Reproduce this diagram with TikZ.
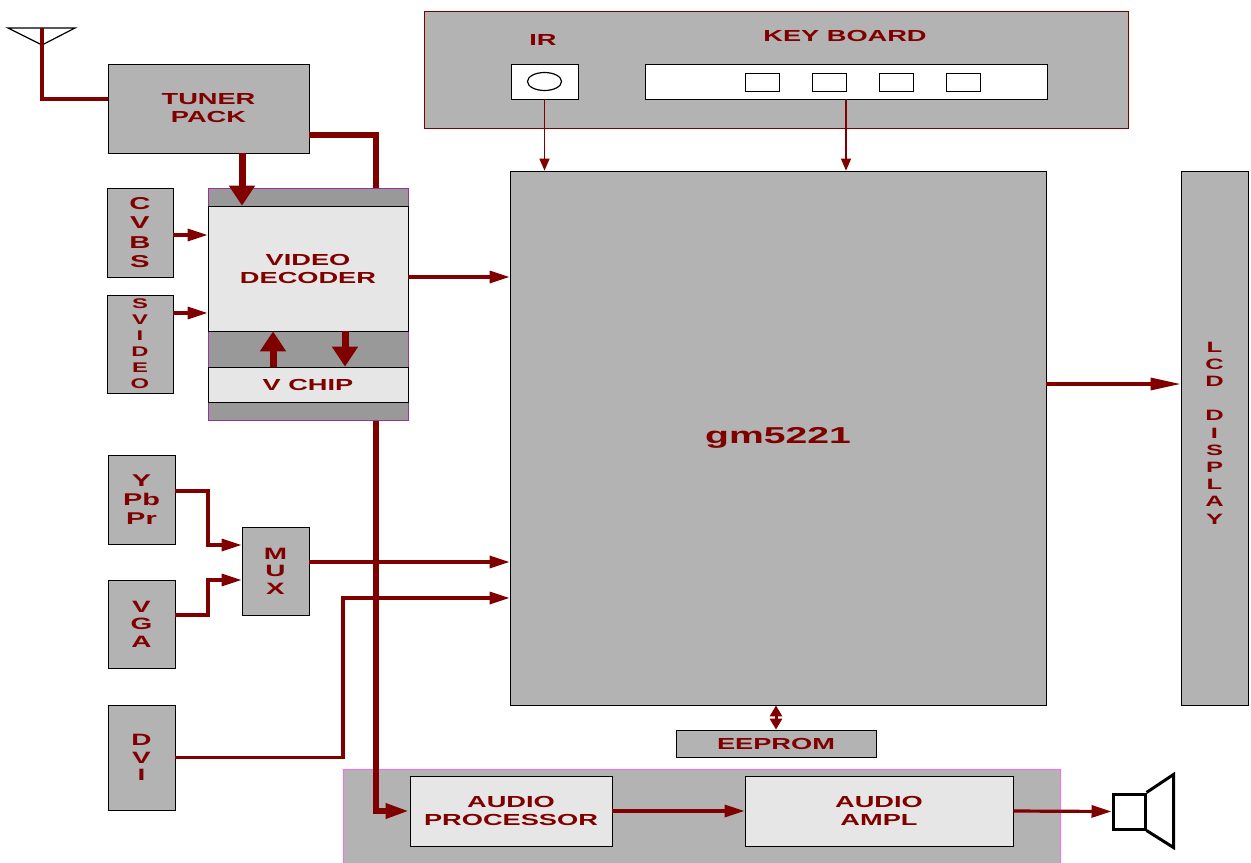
\documentclass[tikz,border=0pt]{standalone}
\usepackage{fontspec}
\newfontfamily\blockfont[FakeStretch=1.7]{Liberation Sans}
\usetikzlibrary{arrows.meta,calc}

\definecolor{lblred}{HTML}{800000}
\definecolor{boxgray}{HTML}{B3B3B3}
\definecolor{panelgray}{HTML}{999999}
\definecolor{chipgray}{HTML}{E6E6E6}
\definecolor{vdpurple}{HTML}{993399}
\definecolor{audmag}{HTML}{FF66FF}

\begin{document}
\begin{tikzpicture}[x=0.5pt,y=-0.5pt]
  \tikzstyle{blk}=[rectangle,draw=black,fill=boxgray,inner sep=0pt,text=lblred,align=center,
                   font=\blockfont\bfseries\fontsize{8}{9}\selectfont]
  \tikzstyle{chip}=[blk,fill=chipgray]
  \tikzstyle{vert}=[font=\blockfont\bfseries\fontsize{8.2}{8.75}\selectfont]
  \tikzstyle{bus}=[draw=lblred,line width=3pt]
  \tikzstyle{bigarrow}=[draw=lblred,line width=3.5pt,-{Triangle[length=10pt,width=12.5pt]}]
  \tikzstyle{sig}=[draw=lblred,line width=1.6pt,-{Triangle[length=10pt,width=6pt]}]
  \tikzstyle{thin}=[draw=lblred,line width=0.7pt,-{Triangle[length=6pt,width=5pt]}]
  \clip (0,0) rectangle (1251,862);
  \fill[white] (0,0) rectangle (1251,862);

  % tuner and antenna
  \node[blk,minimum width=100.5pt,minimum height=44.5pt] (tuner) at (208.5,108.5) {TUNER\\PACK};
  \draw[black,line width=0.6pt] (8,28) -- (75,28) -- (42,45) -- cycle;
  \draw[draw=lblred,line width=2pt] (42,28) |- ($(tuner.west)+(0,-9.5)$);

  % audio part
  \node[blk,draw=audmag,minimum width=358.5pt,minimum height=50.5pt] (audiobg) at (701.5,819.5) {};
  \node[chip,minimum width=101pt,minimum height=35pt] (aproc) at (511,811) {AUDIO\\PROCESSOR};
  \node[chip,minimum width=134pt,minimum height=35pt] (aampl) at (879,811) {AUDIO\\AMPL};

  % audio bus from tuner, runs behind the decoder
  \coordinate (bustop) at (376,135);
  \draw[bus,-{Triangle[length=12pt,width=7pt]}] (tuner.east |- bustop) -- (bustop) |- (aproc.west);

  % video decoder block
  \node[blk,draw=vdpurple,fill=panelgray,minimum width=100pt,minimum height=116pt] (vdbg) at (308,304) {};
  \node[chip,minimum width=100pt,minimum height=62.5pt] (vdec) at (308,268.5) {VIDEO\\DECODER};
  \node[chip,minimum width=100pt,minimum height=17.5pt] (vchip) at (308,384.5) {V CHIP};
  \draw[bigarrow] ($(tuner.south)+(33.5,0)$) -- ($(vdec.north)+(-66,0)$);
  \draw[bigarrow] ($(vchip.north)+(-35,0)$) -- ($(vdec.south)+(-35,0)$);
  \draw[bigarrow] ($(vdec.south)+(37,0)$) -- ($(vchip.north)+(37,0)$);

  % inputs
  \node[blk,vert,font=\blockfont\bfseries\fontsize{8.6}{9.6}\selectfont,minimum width=33pt,minimum height=44.5pt] (cvbs) at (140,232.5) {C\\V\\B\\S};
  \node[blk,vert,font=\blockfont\bfseries\fontsize{7}{8}\selectfont,minimum width=33pt,minimum height=49pt] (svideo) at (140,344) {S\\V\\I\\D\\E\\O};
  \node[blk,vert,font=\blockfont\bfseries\fontsize{8.5}{9.6}\selectfont,minimum width=33.5pt,minimum height=44.5pt] (ypbpr) at (141.5,499.5) {Y\\Pb\\Pr};
  \node[blk,vert,minimum width=33.5pt,minimum height=44pt] (vga) at (141.5,624) {V\\G\\A};
  \node[blk,vert,minimum width=33.5pt,minimum height=44pt] (mux) at (275.5,571) {M\\U\\X};
  \node[blk,vert,minimum width=33.5pt,minimum height=52.5pt] (dvi) at (141.5,757.5) {D\\V\\I};

  \coordinate (cv) at (0,235);
  \coordinate (sv) at (0,313);
  \draw[sig] (cvbs.east |- cv) -- (vdec.west |- cv);
  \draw[sig] (svideo.east |- sv) -- (vdec.west |- sv);
  \coordinate (yjog) at (208,545);
  \coordinate (vjog) at (208,580);
  \draw[sig] ($(ypbpr.east)+(0,-8.5)$) -| (yjog) -- (mux.west |- yjog);
  \draw[sig] ($(vga.east)+(0,-9)$) -| (vjog) -- (mux.west |- vjog);

  % main chip
  \node[blk,font=\blockfont\bfseries\fontsize{11.5}{12}\selectfont,minimum width=268pt,minimum height=267pt] (gm) at (778,438) {gm5221};
  \coordinate (vdrow) at (0,277);
  \coordinate (muxrow) at (0,562);
  \coordinate (dvijog) at (343,598);
  \coordinate (lcdrow) at (0,384);
  \draw[sig] (vdec.east |- vdrow) -- (gm.west |- vdrow);
  \draw[sig] (mux.east |- muxrow) -- (gm.west |- muxrow);
  \draw[sig] (dvi.east) -| (dvijog) -- (gm.west |- dvijog);

  % keyboard and IR
  \node[blk,draw=lblred,minimum width=352pt,minimum height=58.5pt] (kbpanel) at (776,69.5) {};
  \node[text=lblred,font=\blockfont\bfseries\fontsize{8}{9}\selectfont] (irlbl) at (543,40) {IR};
  \node[text=lblred,font=\blockfont\bfseries\fontsize{8}{9}\selectfont] (kblbl) at (845,36) {KEY BOARD};
  \node[blk,fill=white,minimum width=33.5pt,minimum height=17.5pt] (irbox) at (544.5,81.5) {};
  \draw[black,line width=0.6pt] (irbox.center) ellipse (8.5pt and 4.5pt);
  \node[blk,fill=white,minimum width=201pt,minimum height=17.5pt] (kbbox) at (846,81.5) {};
  \foreach \k/\x in {1/762,2/829,3/896,4/963}
    \node[blk,fill=white,minimum width=17pt,minimum height=9pt] (key\k) at (\x,82) {};
  \draw[thin] (irbox.south) -- (gm.north -| irbox.south);
  \draw[thin] (kbbox.south) -- (gm.north -| kbbox.south);

  % display
  \node[blk,font=\blockfont\bfseries\fontsize{7.5}{8.6}\selectfont,minimum width=33.5pt,minimum height=267pt] (lcd) at (1214.5,438)
    {\\[-80pt]L\\C\\D\\[8.6pt]D\\I\\S\\P\\L\\A\\Y};
  \draw[sig,-{Triangle[length=15pt,width=6pt]}] (gm.east |- lcdrow) -- (lcd.west |- lcdrow);

  % eeprom
  \node[blk,minimum width=100pt,minimum height=13.5pt] (eeprom) at (776,743.5) {EEPROM};
  \draw[draw=lblred,line width=1.5pt,{Triangle[length=5.5pt,width=6pt]}-{Triangle[length=5.5pt,width=6pt]}]
    (gm.south -| eeprom.north) -- (eeprom.north);

  % audio chain and speaker
  \node[draw=black,fill=white,line width=1.5pt,minimum width=16pt,minimum height=17.5pt,inner sep=0pt] (spk) at (1129,811.5) {};
  \draw[black,line width=1.5pt] (spk.north east) -- ($(spk.north east)+(27,-18)$) -- ($(spk.south east)+(27,17)$) -- (spk.south east);
  \draw[sig] (aproc.east) -- (aampl.west);
  \draw[sig] (aampl.east) -- (spk.west);
\end{tikzpicture}
\end{document}
